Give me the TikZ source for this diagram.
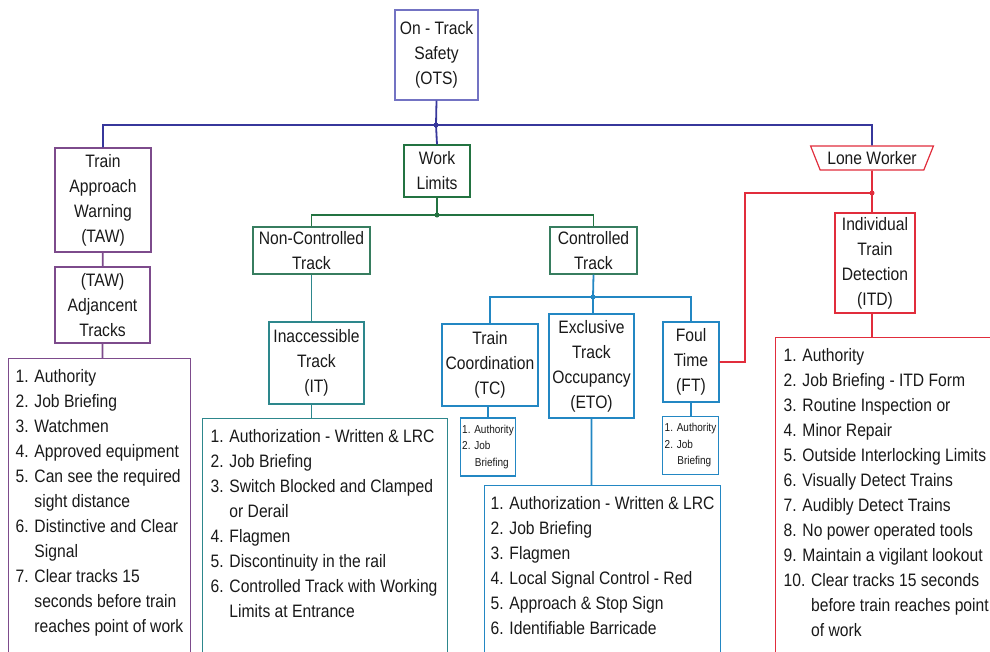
\documentclass[tikz,border=0pt]{standalone}
\usepackage{fontspec}
\setmainfont{Liberation Sans}[FakeStretch=0.87]
\usepackage{tikz}
\usetikzlibrary{shapes.geometric,positioning,calc}
\definecolor{otsblue}{RGB}{55,55,155}
\definecolor{otsbox}{RGB}{115,115,195}
\definecolor{tawpurple}{RGB}{125,75,140}
\definecolor{wlgreen}{RGB}{35,115,65}
\definecolor{trkgreen}{RGB}{55,125,95}
\definecolor{nctteal}{RGB}{45,135,140}
\definecolor{ctblue}{RGB}{35,135,195}
\definecolor{lwred}{RGB}{225,45,60}
\definecolor{txt}{RGB}{25,25,25}
\newcommand{\ind}[1]{\phantom{#1}}
\newcommand{\itemlist}[2]{\parbox[t][330pt][t]{#1}{\begin{tabular}[t]{@{}l@{}}#2\end{tabular}}}
\tikzset{
  box/.style={draw=#1, line width=1.2pt, rectangle, align=center, inner sep=0pt,
    text=txt, font=\fontsize{18}{25}\selectfont},
  listbox/.style={draw=#1, line width=1.2pt, rectangle, anchor=north west,
    inner xsep=6pt, inner ysep=6pt, text=txt, font=\fontsize{18}{25}\selectfont},
  smallbox/.style={draw=#1, line width=1.2pt, rectangle, align=left, inner sep=2pt,
    minimum height=58pt, text=txt, font=\fontsize{11.5}{16.5}\selectfont},
  wire/.style={draw=#1, line width=1.8pt},
}

\begin{document}
\begin{tikzpicture}[x=1pt,y=-1pt]
\useasboundingbox (0,0) rectangle (990,651);

\node[box=otsbox, minimum width=83pt, minimum height=90pt] (ots) at (436.5,55) {On - Track\\Safety\\(OTS)};

\node[box=tawpurple, minimum width=96pt, minimum height=104pt] (taw) at (103,200) {Train\\Approach\\Warning\\(TAW)};
\node[box=tawpurple, minimum width=95pt, minimum height=76pt] (tawadj) at (102.5,305) {(TAW)\\Adjancent\\Tracks};
\node[listbox=tawpurple, inner xsep=7pt] (tawlist) at (8,358) {\itemlist{168pt}{%
  1. Authority\\
  2. Job Briefing\\
  3. Watchmen\\
  4. Approved equipment\\
  5. Can see the required\\
  \ind{5. }sight distance\\
  6. Distinctive and Clear\\
  \ind{6. }Signal\\
  7. Clear tracks 15\\
  \ind{7. }seconds before train\\
  \ind{7. }reaches point of work}};

\node[box=wlgreen, minimum width=66pt, minimum height=52pt] (wl) at (437,171) {Work\\Limits};
\node[box=trkgreen, minimum width=117pt, minimum height=47pt] (nct) at (311.5,250.5) {Non-Controlled\\Track};
\node[box=trkgreen, minimum width=87pt, minimum height=47pt] (ct) at (593.5,250.5) {Controlled\\Track};

\node[box=nctteal, minimum width=95pt, minimum height=82pt] (it) at (316.5,363) {Inaccessible\\Track\\(IT)};
\node[listbox=nctteal, inner xsep=8pt] (itlist) at (202,418) {\itemlist{229pt}{%
  1. Authorization - Written \& LRC\\
  2. Job Briefing\\
  3. Switch Blocked and Clamped\\
  \ind{3. }or Derail\\
  4. Flagmen\\
  5. Discontinuity in the rail\\
  6. Controlled Track with Working\\
  \ind{6. }Limits at Entrance}};

\node[box=ctblue, minimum width=96pt, minimum height=82pt] (tc) at (490,365) {Train\\Coordination\\(TC)};
\node[box=ctblue, minimum width=85pt, minimum height=104pt] (eto) at (591.5,366) {Exclusive\\Track\\Occupancy\\(ETO)};
\node[box=ctblue, minimum width=56pt, minimum height=80pt] (ft) at (691,362) {Foul\\Time\\(FT)};
\node[smallbox=ctblue] (tclist) at (488,447) {1. Authority\\2. Job\\\hspace*{1.1em}Briefing};
\node[smallbox=ctblue] (ftlist) at (690.5,445.5) {1. Authority\\2. Job\\\hspace*{1.1em}Briefing};
\node[listbox=ctblue] (etolist) at (484,485) {\itemlist{224pt}{%
  1. Authorization - Written \& LRC\\
  2. Job Briefing\\
  3. Flagmen\\
  4. Local Signal Control - Red\\
  5. Approach \& Stop Sign\\
  6. Identifiable Barricade}};

\node[trapezium, shape border rotate=180, trapezium stretches, trapezium angle=58,
  draw=lwred, line width=1.2pt, minimum width=123pt, minimum height=24pt, inner sep=0pt,
  text=txt, font=\fontsize{18}{25}\selectfont] (lw) at (872,158) {Lone Worker};
\node[box=lwred, minimum width=80pt, minimum height=100pt] (itd) at (875,263) {Individual\\Train\\Detection\\(ITD)};
\node[listbox=lwred, inner xsep=8pt] (itdlist) at (775,337) {\itemlist{209pt}{%
  1. Authority\\
  2. Job Briefing - ITD Form\\
  3. Routine Inspection or\\
  4. Minor Repair\\
  5. Outside Interlocking Limits\\
  6. Visually Detect Trains\\
  7. Audibly Detect Trains\\
  8. No power operated tools\\
  9. Maintain a vigilant lookout\\
  10. Clear tracks 15 seconds\\
  \ind{10. }before train reaches point\\
  \ind{10. }of work}};

\coordinate (jtop) at (436,125);
\coordinate (jwl) at (437,215);
\coordinate (jct) at (593,297);
\coordinate (jlw) at (872,193);
\coordinate (lwbend) at (745,193);

\draw[wire=otsblue] (ots.south) -- (jtop) (taw.north) |- (jtop) -| (lw.north) (jtop) -- (wl.north);
\draw[wire=tawpurple] (taw) -- (tawadj) (tawadj.south) -- (tawadj.south |- tawlist.north);
\draw[wire=wlgreen] (wl.south) -- (jwl) (nct.north) |- (jwl) -| (ct.north);
\draw[wire=nctteal] (nct.south) -- (nct.south |- it.north)
  (nct.south |- it.south) -- (nct.south |- itlist.north);
\draw[wire=ctblue] (ct.south) -- (jct) -- (eto.north -| jct) (tc.north) |- (jct) -| (ft.north)
  (tclist.north) -- (tclist.north |- tc.south)
  (eto.south) -- (eto.south |- etolist.north)
  (ft.south) -- (ft.south |- ftlist.north);
\draw[wire=lwred] (lw.south) -- (jlw) -- (jlw |- itd.north) (jlw) -- (lwbend) |- (ft.east)
  (jlw |- itd.south) -- (jlw |- itdlist.north);

\fill[otsblue] (jtop) circle (2.5);
\fill[wlgreen] (jwl) circle (2.5);
\fill[ctblue] (jct) circle (2.5);
\fill[lwred] (jlw) circle (2.5);
\end{tikzpicture}
\end{document}
